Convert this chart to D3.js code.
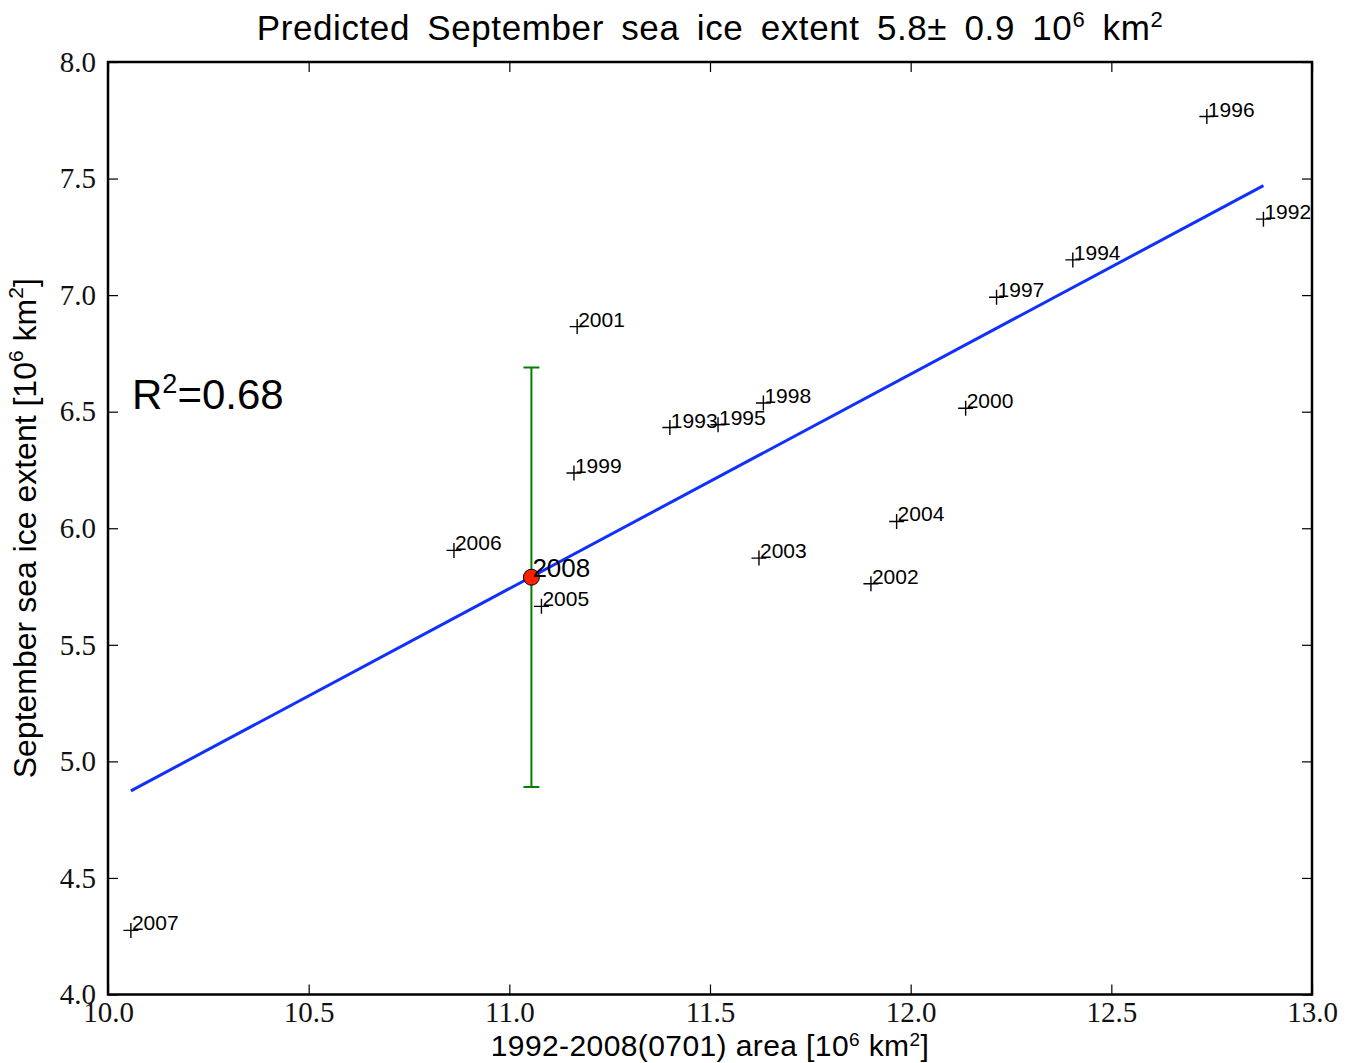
<!DOCTYPE html>
<html>
<head>
<meta charset="utf-8">
<script src="https://cdn.jsdelivr.net/npm/d3@7"></script>
<style>
  body { margin: 0; background: #fff; }
  svg { display: block; }
  .tick text { font-family: "Liberation Serif", "Times New Roman", serif; font-size: 29px; fill: #111; }
  .sans { font-family: "Liberation Sans", Arial, sans-serif; }
</style>
</head>
<body>
<svg id="chart" width="1358" height="1063"></svg>
<script>
// Yearly data
const years = [1992, 1993, 1994, 1995, 1996, 1997, 1998, 1999, 2000,
               2001, 2002, 2003, 2004, 2005, 2006, 2007]
const area = [12.879, 11.400, 12.404, 11.520, 12.738, 12.214, 11.633, 11.161, 12.137,
              11.169, 11.901, 11.622, 11.965, 11.080, 10.862, 10.057]
const extent = [7.326, 6.432, 7.151, 6.444, 7.766, 6.991, 6.537, 6.237, 6.515,
                6.865, 5.762, 5.872, 6.029, 5.665, 5.905, 4.275]

// Prediction for 2008 with its error
const predYear = [2008]
const predArea = [11.055]
const predExtent = [5.79]
const predError = [0.9]

// Linear fit (slope, intercept) and its R^2
const fitSlope = 0.920
const fitIntercept = -4.379
const rSquared = 0.68

// Axis ticks
const xTicks = [10.0, 10.5, 11.0, 11.5, 12.0, 12.5, 13.0]
const yTicks = [4.0, 4.5, 5.0, 5.5, 6.0, 6.5, 7.0, 7.5, 8.0]

const svg = d3.select("#chart")
const margin = { top: 62, right: 46, bottom: 68.5, left: 108 }
const width = 1358 - margin.left - margin.right
const height = 1063 - margin.top - margin.bottom

const g = svg.append("g")
  .attr("transform", `translate(${margin.left},${margin.top})`)

const x = d3.scaleLinear().domain([10, 13]).range([0, width])
const y = d3.scaleLinear().domain([4, 8]).range([height, 0])

// Axes with inward ticks on all four sides
const fmt = d3.format(".1f")
g.append("g")
  .attr("transform", `translate(0,${height})`)
  .call(d3.axisBottom(x).tickValues(xTicks).tickFormat(fmt).tickSize(-10).tickPadding(7))
g.append("g")
  .call(d3.axisLeft(y).tickValues(yTicks).tickFormat(fmt).tickSize(-10).tickPadding(12))
g.append("g")
  .call(d3.axisTop(x).tickValues(xTicks).tickFormat("").tickSize(-10))
g.append("g")
  .attr("transform", `translate(${width},0)`)
  .call(d3.axisRight(y).tickValues(yTicks).tickFormat("").tickSize(-10))

g.selectAll(".domain").remove()
g.selectAll(".tick line").attr("stroke", "#000").attr("stroke-width", 1.2)

// Regression line over the range of the data
const [xMin, xMax] = d3.extent(area)
g.append("line")
  .attr("x1", x(xMin))
  .attr("y1", y(fitIntercept + fitSlope * xMin))
  .attr("x2", x(xMax))
  .attr("y2", y(fitIntercept + fitSlope * xMax))
  .attr("stroke", "#1030ff")
  .attr("stroke-width", 3)

// Data points as "+" markers
const pts = g.append("g")
years.forEach((yr, i) => {
  const px = x(area[i]), py = y(extent[i])
  pts.append("path")
    .attr("d", `M${px - 7.5},${py}H${px + 7.5}M${px},${py - 7.5}V${py + 7.5}`)
    .attr("stroke", "#000")
    .attr("stroke-width", 1.4)
  pts.append("text")
    .attr("class", "sans")
    .attr("x", px + 1)
    .attr("y", py)
    .attr("font-size", 21)
    .text(yr)
})

// Error bar for the prediction
const ex = x(predArea[0])
const eTop = y(predExtent[0] + predError[0])
const eBot = y(predExtent[0] - predError[0])
g.append("path")
  .attr("d", `M${ex},${eTop}V${eBot}M${ex - 8},${eTop}H${ex + 8}M${ex - 8},${eBot}H${ex + 8}`)
  .attr("stroke", "#008000")
  .attr("stroke-width", 2)
  .attr("fill", "none")

g.append("circle")
  .attr("cx", ex)
  .attr("cy", y(predExtent[0]))
  .attr("r", 8)
  .attr("fill", "#ff2000")
  .attr("stroke", "#000")
  .attr("stroke-width", 1)

g.append("text")
  .attr("class", "sans")
  .attr("x", ex + 1)
  .attr("y", y(predExtent[0]))
  .attr("font-size", 26)
  .text(predYear[0])

// R^2 annotation
const r2 = g.append("text")
  .attr("class", "sans")
  .attr("x", 24)
  .attr("y", 347)
  .attr("font-size", 42)
r2.append("tspan").text("R")
r2.append("tspan").attr("font-size", 27).attr("dy", -16).text("2")
r2.append("tspan").attr("dy", 16).text("=" + rSquared.toFixed(2))

// Frame
g.append("rect")
  .attr("width", width)
  .attr("height", height)
  .attr("fill", "none")
  .attr("stroke", "#000")
  .attr("stroke-width", 2.5)

// Title
const title = svg.append("text")
  .attr("class", "sans")
  .attr("x", margin.left + width / 2)
  .attr("y", 40)
  .attr("text-anchor", "middle")
  .attr("font-size", 35)
  .attr("letter-spacing", 0.6)
  .attr("word-spacing", 7)
title.append("tspan").text(`Predicted September sea ice extent ${predExtent[0].toFixed(1)}\u00b1 ${predError[0].toFixed(1)} 10`)
title.append("tspan").attr("font-size", 22).attr("dy", -13).text("6")
title.append("tspan").attr("dy", 13).text(" km")
title.append("tspan").attr("font-size", 22).attr("dy", -13).text("2")

// X axis label
const xl = svg.append("text")
  .attr("class", "sans")
  .attr("x", margin.left + width / 2)
  .attr("y", 1056)
  .attr("text-anchor", "middle")
  .attr("font-size", 30)
  .attr("letter-spacing", 0.4)
xl.append("tspan").text("1992-2008(0701) area [10")
xl.append("tspan").attr("font-size", 19).attr("dy", -10).text("6")
xl.append("tspan").attr("dy", 10).text(" km")
xl.append("tspan").attr("font-size", 19).attr("dy", -10).text("2")
xl.append("tspan").attr("dy", 10).text("]")

// Y axis label
const yl = svg.append("text")
  .attr("class", "sans")
  .attr("transform", `translate(36,${margin.top + height / 2}) rotate(-90)`)
  .attr("text-anchor", "middle")
  .attr("font-size", 32)
yl.append("tspan").text("September sea ice extent [10")
yl.append("tspan").attr("font-size", 21).attr("dy", -13).text("6")
yl.append("tspan").attr("dy", 13).text(" km")
yl.append("tspan").attr("font-size", 21).attr("dy", -13).text("2")
yl.append("tspan").attr("dy", 13).text("]")
</script>
</body>
</html>
